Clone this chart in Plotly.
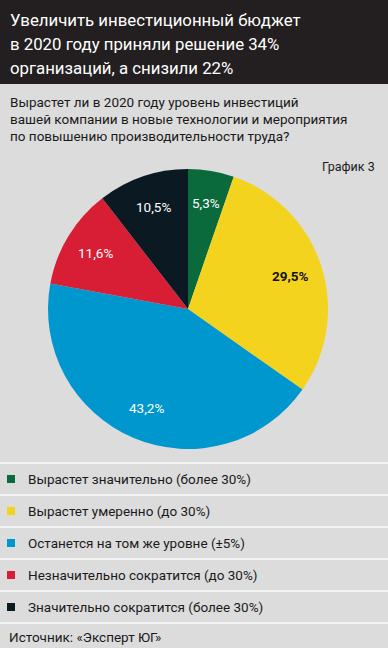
import plotly.graph_objects as go
import math

# ---- data ----
title_lines = ["Увеличить инвестиционный бюджет",
               "в 2020 году приняли решение 34%",
               "организаций, а снизили 22%"]
question_lines = ["Вырастет ли в 2020 году уровень инвестиций",
                  "вашей компании в новые технологии и мероприятия",
                  "по повышению производительности труда?"]
chart_tag = "График 3"
categories = ["Вырастет значительно (более 30%)",
              "Вырастет умеренно (до 30%)",
              "Останется на том же уровне (±5%)",
              "Незначительно сократится (до 30%)",
              "Значительно сократится (более 30%)"]
values = [5.3, 29.5, 43.2, 11.6, 10.5]
source = "Источник: «Эксперт ЮГ»"

# ---- style ----
W, H = 388, 648
colors = ["#0b6a3c", "#f4d31f", "#0097cf", "#d81e34", "#0b1a22"]
label_colors = ["white", "#111111", "white", "white", "white"]
FONT = "Roboto, Liberation Sans Narrow, sans-serif"
BG = "#dcdcdc"
HEAD = "#231f20"
TXT = "#1a1a1a"

cx, cy, R = 188, 309, 140  # pie centre & radius in px

def px(x):
    return x / W

def py(y):
    return 1 - y / H

fig = go.Figure()
fig.add_trace(go.Pie(
    values=values, labels=categories, sort=False, direction="clockwise",
    rotation=0, marker=dict(colors=colors, line=dict(width=0)),
    textinfo="none", hoverinfo="label+percent", showlegend=False,
    domain=dict(x=[px(cx - R), px(cx + R)], y=[py(cy + R), py(cy - R)]),
))

shapes = []
annotations = []

def note(text, x, y, size, color=TXT, anchor="left"):
    annotations.append(dict(text=text, x=px(x), y=py(y), xref="paper", yref="paper",
                            xanchor=anchor, yanchor="middle", showarrow=False,
                            font=dict(family=FONT, size=size, color=color)))

# header
shapes.append(dict(type="rect", xref="paper", yref="paper", x0=0, x1=1,
                   y0=py(84), y1=1, fillcolor=HEAD, line=dict(width=0), layer="below"))
for i, t in enumerate(title_lines):
    note(t, 8, 20 + 24 * i, 16.8, "white")
for i, t in enumerate(question_lines):
    note(t, 8, 102 + 17 * i, 13.5)
note(chart_tag, 377, 167, 12.5, anchor="right")

# slice labels
total = sum(values)
cum = 0
for v, lc in zip(values, label_colors):
    mid = (cum + v / 2) / total * 2 * math.pi
    cum += v
    r = 0.77 * R
    x = cx + r * math.sin(mid)
    y = cy - r * math.cos(mid)
    txt = f"{v:.1f}%".replace(".", ",")
    if lc != "white":
        txt = f"<b>{txt}</b>"
    note(txt, x, y, 13.5, lc, anchor="center")

# legend rows with separators
row0 = 463
rowh = 32
for i in range(len(categories) + 1):
    yy = row0 + rowh * i
    shapes.append(dict(type="line", xref="paper", yref="paper", x0=0, x1=1,
                       y0=py(yy), y1=py(yy), line=dict(color="#f4f4f4", width=2)))
for i, (c, col) in enumerate(zip(categories, colors)):
    yc = row0 + rowh * i + 16
    shapes.append(dict(type="rect", xref="paper", yref="paper",
                       x0=px(7), x1=px(15), y0=py(yc + 4), y1=py(yc - 4),
                       fillcolor=col, line=dict(width=0)))
    note(c, 26, yc, 13.5)
note(source, 7, row0 + rowh * 5 + 14, 13.5)

fig.update_layout(width=W, height=H, margin=dict(l=0, r=0, t=0, b=0),
                  paper_bgcolor=BG, plot_bgcolor=BG,
                  shapes=shapes, annotations=annotations)
fig.write_html("out.html", config={"displayModeBar": False},
               post_script="document.body.style.margin='0';document.body.style.overflow='hidden';")
